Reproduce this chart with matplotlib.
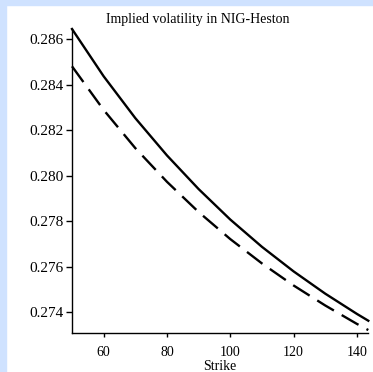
import matplotlib
matplotlib.use("Agg")
import matplotlib.pyplot as plt
from matplotlib.patches import Rectangle

# strikes and implied vols
strike = [50, 60, 70, 80, 90, 100, 110, 120, 130, 140, 143.6]
vol_solid = [0.28645, 0.28437, 0.28253, 0.28089, 0.27941, 0.27807,
             0.27687, 0.27579, 0.27481, 0.27392, 0.27362]
vol_dashed = [0.28481, 0.28289, 0.28121, 0.27973, 0.27840, 0.27721,
              0.27614, 0.27517, 0.27429, 0.27348, 0.27321]
yticks = [0.274, 0.276, 0.278, 0.280, 0.282, 0.284, 0.286]
xticks = [60, 80, 100, 120, 140]

plt.rcParams['font.family'] = ['Liberation Serif', 'DejaVu Serif']
plt.rcParams['lines.scale_dashes'] = False

fig = plt.figure(figsize=(3.73, 3.72), dpi=100)
fig.patch.set_facecolor('white')
# light blue page border on the left and top
fig.patches.append(Rectangle((0, 0), 6 / 373, 1, transform=fig.transFigure,
                             color='#cfe2ff', zorder=-1))
fig.patches.append(Rectangle((0, 1 - 5 / 372), 1, 5 / 372, transform=fig.transFigure,
                             color='#cfe2ff', zorder=-1))

ax = fig.add_axes([72 / 373, 39 / 372, 296.3 / 373, 304 / 372])
ax.plot(strike, vol_solid, color='black', lw=1.7, clip_on=False)
ax.plot(strike, vol_dashed, color='black', lw=1.7, dashes=(14, 6.5), clip_on=False)

ax.set_xlim(50, 143.6)
ax.set_ylim(0.27308, 0.28645)
ax.set_xticks(xticks)
ax.set_yticks(yticks)
ax.set_yticklabels([f"{v:.3f}" for v in yticks])
ax.spines['top'].set_visible(False)
ax.spines['right'].set_visible(False)
for s in ['left', 'bottom']:
    ax.spines[s].set_linewidth(1.0)
ax.tick_params(axis='y', direction='out', length=4, width=1, labelsize=11, pad=2)
ax.tick_params(axis='x', direction='out', length=3, width=1, labelsize=10, pad=6)

ax.set_xlabel("Strike", fontsize=10, labelpad=1)
fig.text(198 / 373, 1 - 19 / 372, "Implied volatility in NIG-Heston",
         ha='center', va='center', fontsize=10)

fig.savefig("out.png", dpi=100)
